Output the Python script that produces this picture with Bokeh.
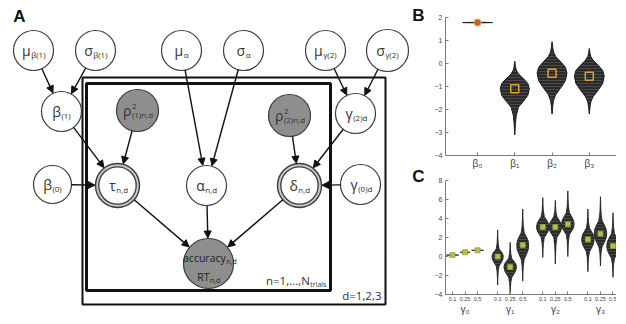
import math
from bokeh.plotting import figure
from bokeh.models import (Range1d, Arrow, NormalHead, ColumnDataSource, FixedTicker, LinearAxis)
from bokeh.layouts import row, column
from bokeh.embed import file_html
from bokeh.resources import INLINE
from bokeh.core.properties import value

FONT = "Open Sans"
AXFONT = "Liberation Sans"
TXT = "#333333"

# ---------------- Panel A : graphical model (positions in picture pixels) ----------------
node_names = ["mu_b1", "sig_b1", "mu_a", "sig_a", "mu_g2", "sig_g2",
              "b1", "rho1", "rho2", "g2d",
              "b0", "tau", "alpha", "delta", "g0d", "acc"]
node_x = [35, 97, 183, 245, 327, 389, 63, 139, 291, 357, 54, 119, 208, 301, 362, 210]
node_y = [52, 52, 52, 52, 52, 52, 113, 112, 117, 115, 186, 187, 187, 187, 186, 265]
node_r = [20, 20, 20, 20, 20, 21, 20, 21, 21, 20, 19, 22, 20, 22, 20, 25]
node_kind = ["open", "open", "open", "open", "open", "open",
             "open", "gray", "gray", "open",
             "open", "double", "open", "double", "open", "gray"]
node_main = ["μ", "σ", "μ", "σ", "μ", "σ", "β", "ρ", "ρ", "γ", "β", "τ", "α", "δ", "γ", ""]
node_sub = ["β(1)", "β(1)", "α", "α", "γ(2)", "γ(2)", "(1)", "(1)n,d", "(2)n,d", "(2)d",
            "(0)", "n,d", "n,d", "n,d", "(0)d", ""]
node_sup = ["", "", "", "", "", "", "", "2", "2", "", "", "", "", "", "", ""]
acc_lines = ["accuracy", "RT"]
acc_subs = ["n,d", "n,d"]
acc_line_y = [259, 278]

edges = [("mu_b1", "b1"), ("sig_b1", "b1"), ("b1", "tau"), ("rho1", "tau"), ("b0", "tau"),
         ("mu_a", "alpha"), ("sig_a", "alpha"), ("mu_g2", "g2d"), ("sig_g2", "g2d"),
         ("rho2", "delta"), ("g2d", "delta"),
         ("g0d", "delta"), ("tau", "acc"), ("alpha", "acc"), ("delta", "acc")]

plate_left = [84, 88]
plate_right = [387, 332]
plate_top = [79, 85]
plate_bottom = [306, 292]
plate_label = ["d=1,2,3", "n=1,...,N"]
plate_label_sub = ["", "trials"]
plate_label_y = [297, 282]

panel_letters = ["A", "B", "C"]
panel_letter_x = [21, 420, 420]
panel_letter_y = [18, 17, 178]

MAIN_SIZE, SUB_SIZE = 14, 8
ORIGIN = 2  # where the canvas lands on the photographed page


def tw(s, size):
    w = 0.0
    for c in s:
        if c in "(),.il":
            w += 0.28
        elif c in "trf":
            w += 0.36
        elif c in "mw":
            w += 0.85
        else:
            w += 0.55
    return w * size


A_W, A_H = 428, 314
pA = figure(width=A_W, height=A_H, x_range=Range1d(ORIGIN, ORIGIN + A_W),
            y_range=Range1d(ORIGIN + A_H, ORIGIN),
            output_backend="svg", toolbar_location=None, min_border=0,
            x_axis_location=None, y_axis_location=None)
pA.grid.visible = False
pA.outline_line_color = None
pA.background_fill_color = "white"

# plates
pA.quad(left=plate_left[:1], right=plate_right[:1], top=plate_top[:1], bottom=plate_bottom[:1],
        fill_color=None, line_color="#111111", line_width=2)
pA.quad(left=plate_left[1:], right=plate_right[1:], top=plate_top[1:], bottom=plate_bottom[1:],
        fill_color=None, line_color="#111111", line_width=3)

# arrows
idx = {n: i for i, n in enumerate(node_names)}
x0s, y0s, x1s, y1s = [], [], [], []
for a, b in edges:
    ia, ib = idx[a], idx[b]
    dx = node_x[ib] - node_x[ia]
    dy = node_y[ib] - node_y[ia]
    d = math.hypot(dx, dy)
    ux, uy = dx / d, dy / d
    x0s.append(node_x[ia] + node_r[ia] * ux)
    y0s.append(node_y[ia] + node_r[ia] * uy)
    x1s.append(node_x[ib] - (node_r[ib] + 0.5) * ux)
    y1s.append(node_y[ib] - (node_r[ib] + 0.5) * uy)
asrc = ColumnDataSource(dict(x0=x0s, y0=y0s, x1=x1s, y1=y1s))
pA.add_layout(Arrow(end=NormalHead(size=7, fill_color="#111111", line_color="#111111", line_width=1),
                    x_start="x0", y_start="y0", x_end="x1", y_end="y1", source=asrc,
                    line_color="#111111", line_width=1.4))

# nodes
def sel(kind):
    ii = [i for i, k in enumerate(node_kind) if k == kind]
    return ([node_x[i] for i in ii], [node_y[i] for i in ii], [node_r[i] for i in ii])

ox, oy, orr = sel("open")
pA.circle(x=ox, y=oy, radius=orr, fill_color="white", line_color="#3a3a3a", line_width=1.2)
gx, gy, gr = sel("gray")
pA.circle(x=gx, y=gy, radius=gr, fill_color="#8e8e8e", line_color="#3a3a3a", line_width=1.2)
dxs, dys, drs = sel("double")
pA.circle(x=dxs, y=dys, radius=drs, fill_color="#c8c8c8", line_color="#3a3a3a", line_width=1.4)
pA.circle(x=dxs, y=dys, radius=[r - 3.3 for r in drs], fill_color="white",
          line_color="#3a3a3a", line_width=1.3)

# node labels: main glyph right-aligned at a split point, sub/superscripts left-aligned there
mx, my, mt, sx, sy, st, px_, py_, pt = [], [], [], [], [], [], [], [], []
for i in range(len(node_names)):
    if not node_main[i]:
        continue
    wm = tw(node_main[i], MAIN_SIZE)
    ws = tw(node_sub[i], SUB_SIZE)
    split = node_x[i] + (wm - ws) / 2
    mx.append(split); my.append(node_y[i]); mt.append(node_main[i])
    sx.append(split + 0.5); sy.append(node_y[i] + 4); st.append(node_sub[i])
    if node_sup[i]:
        px_.append(split + 0.5); py_.append(node_y[i] - 4.5); pt.append(node_sup[i])
pA.text(x=mx, y=my, text=mt, text_font=value(FONT), text_font_size=value(f"{MAIN_SIZE}px"),
        text_align="right", text_baseline="middle", text_color=TXT)
pA.text(x=sx, y=sy, text=st, text_font=value(FONT), text_font_size=value(f"{SUB_SIZE}px"),
        text_align="left", text_baseline="middle", text_color=TXT)
pA.text(x=px_, y=py_, text=pt, text_font=value(FONT), text_font_size=value("8px"),
        text_align="left", text_baseline="middle", text_color=TXT)

# accuracy / RT node text
ia = idx["acc"]
ax_, ay_, at_, bx_, by_, bt_ = [], [], [], [], [], []
for line, sub, yy in zip(acc_lines, acc_subs, acc_line_y):
    wl = tw(line, 10.5)
    ws = tw(sub, 7)
    split = node_x[ia] + (wl - ws) / 2
    ax_.append(split); ay_.append(yy); at_.append(line)
    bx_.append(split + 0.5); by_.append(yy + 3.5); bt_.append(sub)
pA.text(x=ax_, y=ay_, text=at_, text_font=value(FONT), text_font_size=value("10.5px"),
        text_align="right", text_baseline="middle", text_color="#222222")
pA.text(x=bx_, y=by_, text=bt_, text_font=value(FONT), text_font_size=value("7px"),
        text_align="left", text_baseline="middle", text_color="#222222")

# plate labels (right aligned inside the plate's right side)
lx, ly, lt, lsx, lsy, lst = [], [], [], [], [], []
for k in range(len(plate_label)):
    right = plate_right[k] - 4
    ws = tw(plate_label_sub[k], 7)
    split = right - ws
    lx.append(split); ly.append(plate_label_y[k]); lt.append(plate_label[k])
    if plate_label_sub[k]:
        lsx.append(split + 0.5); lsy.append(plate_label_y[k] + 3.5); lst.append(plate_label_sub[k])
pA.text(x=lx, y=ly, text=lt, text_font=value(FONT), text_font_size=value("11.5px"),
        text_align="right", text_baseline="middle", text_color=TXT)
pA.text(x=lsx, y=lsy, text=lst, text_font=value(FONT), text_font_size=value("7px"),
        text_align="left", text_baseline="middle", text_color=TXT)

# panel letters
pA.text(x=panel_letter_x, y=panel_letter_y, text=panel_letters, text_font=value(AXFONT),
        text_font_size=value("17px"), text_font_style="bold", text_align="center",
        text_baseline="middle", text_color="#111111")

# ---------------- violin helper ----------------
body_t = [0.0, 0.35, 0.65, 1.0]
body_w = [1.0, 0.9, 0.62, 0.25]
tail_t = [0.3, 0.6, 1.0]
tail_w = [0.1, 0.045, 0.0]


def violin(xc, lo, blo, med, bhi, hi, hw):
    up = []
    for t, w in zip(reversed(tail_t), reversed(tail_w)):
        up.append((bhi + t * (hi - bhi), w))
    for t, w in zip(reversed(body_t), reversed(body_w)):
        up.append((med + t * (bhi - med), w))
    down = []
    for t, w in zip(body_t[1:], body_w[1:]):
        down.append((med - t * (med - blo), w))
    for t, w in zip(tail_t, tail_w):
        down.append((blo - t * (blo - lo), w))
    prof = up + down
    xs = [xc + hw * w for _, w in prof] + [xc - hw * w for _, w in reversed(prof)]
    ys = [y for y, _ in prof] + [y for y, _ in reversed(prof)]
    return xs, ys


# ---------------- Panel B ----------------
beta_labels = ["β₀", "β₁", "β₂", "β₃"]
beta_pos = [1, 2, 3, 4]
beta_lo = [1.76, -3.1, -2.2, -2.2]
beta_body_lo = [1.77, -1.9, -1.35, -1.45]
beta_median = [1.78, -1.10, -0.42, -0.55]
beta_body_hi = [1.79, -0.45, 0.3, 0.15]
beta_hi = [1.80, 0.1, 0.95, 0.65]
beta_halfwidth = [0.40, 0.39, 0.40, 0.40]
b_ticks = [-4, -3, -2, -1, 0, 1, 2]

pB = figure(frame_width=171, frame_height=138, x_range=Range1d(0.14, 4.73), y_range=Range1d(-4, 2.0),
            output_backend="svg", toolbar_location=None,
            min_border_left=17, min_border_right=0, min_border_top=17, min_border_bottom=19)
bxs, bys = [], []
for i in range(4):
    xs, ys = violin(beta_pos[i], beta_lo[i], beta_body_lo[i], beta_median[i],
                    beta_body_hi[i], beta_hi[i], beta_halfwidth[i])
    bxs.append(xs); bys.append(ys)
pB.patches(xs=bxs, ys=bys, fill_color="#2a2a2a", line_color="#1a1a1a", line_width=1,
           hatch_pattern="horizontal_line", hatch_color="#6a6a6a", hatch_scale=3, hatch_weight=0.5)
pB.scatter(x=beta_pos[1:], y=beta_median[1:], marker="square", size=8, fill_color=None,
           line_color="#e0a030", line_width=1.5)
pB.scatter(x=beta_pos[:1], y=beta_median[:1], marker="circle", size=7, fill_color="#c0602a",
           line_color="#e8a060", line_width=1)

# ---------------- Panel C ----------------
gamma_groups = ["γ₀", "γ₁", "γ₂", "γ₃"]
quant_labels = ["0.1", "0.25", "0.5"]
gamma_lo = [0.08, 0.38, 0.58, -3.0, -4.0, -2.6, -0.1, -0.8, 0.0, -1.6, -1.0, -2.2]
gamma_body_lo = [0.12, 0.42, 0.62, -1.0, -2.2, -0.3, 2.0, 2.0, 2.3, 0.5, 1.0, -0.2]
gamma_median = [0.15, 0.45, 0.65, 0.0, -1.1, 1.2, 3.1, 3.1, 3.4, 1.8, 2.4, 1.1]
gamma_body_hi = [0.18, 0.48, 0.68, 0.8, -0.2, 2.5, 4.2, 4.2, 4.6, 3.0, 3.8, 2.4]
gamma_hi = [0.22, 0.52, 0.72, 2.8, 1.5, 5.0, 6.2, 5.9, 6.9, 5.0, 6.3, 4.6]
gamma_halfwidth = [4.8, 4.0, 4.8, 4.5, 5.0, 4.8, 5.0, 5.0, 5.0, 5.0, 5.0, 5.0]
c_ticks = [-4, -2, 0, 2, 4, 6, 8]

GROUP_STEP, SUB_STEP = 36, 10
c_pos, c_lab = [], {}
for g in range(len(gamma_groups)):
    for s in range(len(quant_labels)):
        xx = g * GROUP_STEP + s * SUB_STEP
        c_pos.append(xx)
        c_lab[xx] = quant_labels[s]
group_pos = [g * GROUP_STEP + SUB_STEP for g in range(len(gamma_groups))]

pC = figure(frame_width=171, frame_height=114, x_range=Range1d(-5.6, 130.8), y_range=Range1d(-4, 8),
            output_backend="svg", toolbar_location=None,
            min_border_left=17, min_border_right=0, min_border_top=6, min_border_bottom=21)
cxs, cys = [], []
for i in range(len(c_pos)):
    xs, ys = violin(c_pos[i], gamma_lo[i], gamma_body_lo[i], gamma_median[i],
                    gamma_body_hi[i], gamma_hi[i], gamma_halfwidth[i])
    cxs.append(xs); cys.append(ys)
pC.patches(xs=cxs, ys=cys, fill_color="#2a2a2a", line_color="#1a1a1a", line_width=0.8,
           hatch_pattern="horizontal_line", hatch_color="#6a6a6a", hatch_scale=3, hatch_weight=0.5)
pC.scatter(x=c_pos, y=gamma_median, marker="square", size=5, fill_color="#b8bd48",
           line_color="#9aa035", line_width=0.8)

group_axis = LinearAxis(ticker=FixedTicker(ticks=group_pos),
                        major_label_overrides={p: l for p, l in zip(group_pos, gamma_groups)})
pC.add_layout(group_axis, "below")

for p in (pB, pC):
    p.grid.visible = False
    p.outline_line_color = None
    for ax in p.axis:
        ax.axis_line_color = "#7a7a7a"
        ax.axis_line_width = 1
        ax.major_tick_line_color = "#7a7a7a"
        ax.major_tick_in = 3
        ax.major_tick_out = 0
        ax.minor_tick_line_color = None
        ax.major_label_text_color = "#444444"
        ax.major_label_text_font = AXFONT
        ax.major_label_standoff = 3

pB.yaxis.ticker = FixedTicker(ticks=b_ticks)
pB.yaxis.major_label_text_font_size = "7px"
pB.xaxis.ticker = FixedTicker(ticks=beta_pos)
pB.xaxis.major_label_overrides = {p: l for p, l in zip(beta_pos, beta_labels)}
pB.xaxis.major_label_text_font_size = "10px"
pB.xaxis.major_label_standoff = 2

pC.yaxis.ticker = FixedTicker(ticks=c_ticks)
pC.yaxis.major_label_text_font_size = "7px"
pC.xaxis[0].ticker = FixedTicker(ticks=c_pos)
pC.xaxis[0].major_label_overrides = c_lab
pC.xaxis[0].major_label_text_font_size = "5.5px"
pC.xaxis[0].major_label_standoff = 2
group_axis.axis_line_color = None
group_axis.major_tick_line_color = None
group_axis.major_label_text_font_size = "10px"
group_axis.major_label_standoff = 0

layout = row(pA, column(pB, pC))
open("out.html", "w").write(file_html(layout, INLINE))
